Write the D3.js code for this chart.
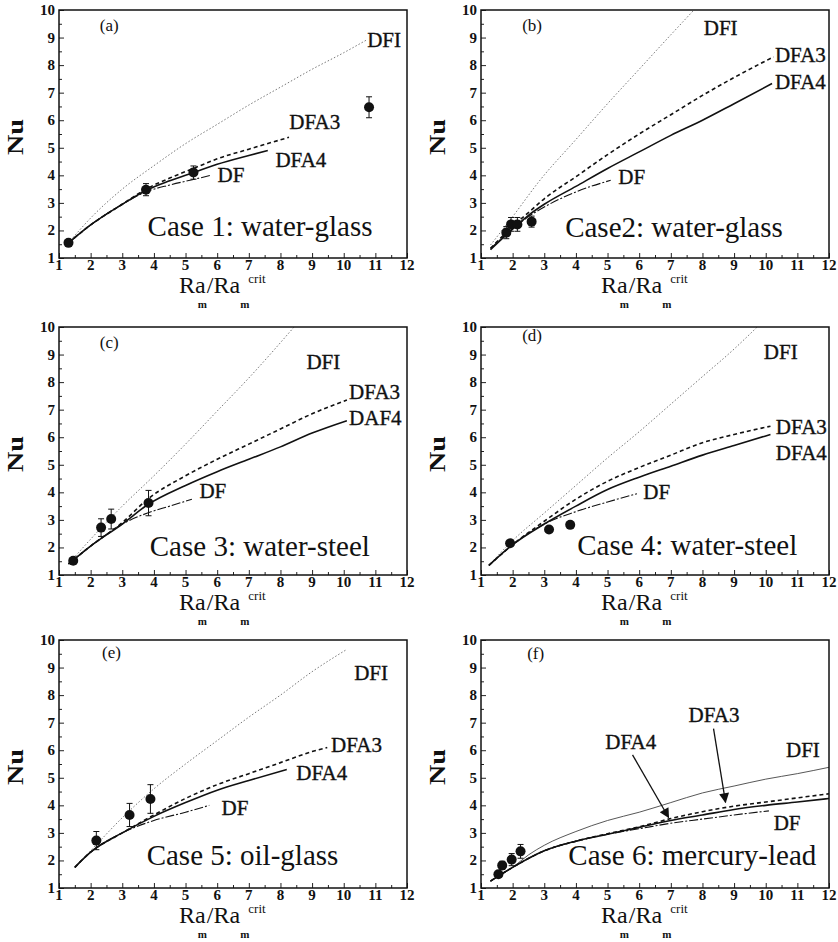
<!DOCTYPE html>
<html>
<head>
<meta charset="utf-8">
<script src="https://cdn.jsdelivr.net/npm/d3@7"></script>
<style>
  body { margin: 0; background: #fff; }
  svg, text { font-family: "Liberation Serif", "Times New Roman", serif; }
  text { fill: #111; }
</style>
</head>
<body>
<svg id="fig" width="838" height="942"></svg>
<script>
const panelTags = ["(a)", "(b)", "(c)", "(d)", "(e)", "(f)"]
const caseNames = ["Case 1: water-glass", "Case2: water-glass", "Case 3: water-steel",
                   "Case 4: water-steel", "Case 5: oil-glass", "Case 6: mercury-lead"]
const xTicks = d3.range(1, 13)
const yTicks = d3.range(1, 11)

// measured Nu: [Ra_m/Ra_m^crit, Nu, error]
const measured = [
  [[1.3, 1.55, 0], [3.75, 3.48, 0.22], [5.25, 4.1, 0.24], [10.8, 6.47, 0.38]],
  [[1.8, 1.92, 0.22], [1.95, 2.22, 0.25], [2.15, 2.22, 0.25], [2.6, 2.32, 0.2]],
  [[1.45, 1.52, 0.1], [2.33, 2.72, 0.32], [2.65, 3.03, 0.36], [3.83, 3.61, 0.46]],
  [[1.92, 2.15, 0], [3.15, 2.65, 0], [3.82, 2.82, 0]],
  [[2.18, 2.72, 0.33], [3.23, 3.65, 0.42], [3.89, 4.23, 0.52]],
  [[1.55, 1.5, 0.1], [1.67, 1.82, 0.15], [1.97, 2.03, 0.22], [2.25, 2.33, 0.25]]
]

// model curves, one list per panel
const DFI = [
  [[1.3, 1.55], [2, 2.45], [3, 3.5], [4, 4.35], [5, 5.15], [6, 5.85], [7, 6.55], [8, 7.2], [9, 7.85], [10, 8.45], [10.75, 8.93]],
  [[1.3, 1.47], [2, 2.5], [2.87, 3.83], [4, 5.3], [5, 6.6], [6, 7.85], [7, 9.1], [7.73, 10]],
  [[1.3, 1.4], [2, 2.3], [3, 3.5], [4, 4.6], [5, 5.75], [6, 6.95], [7, 8.15], [8.43, 10]],
  [[1.25, 1.35], [2, 2.25], [3, 3.25], [4, 4.25], [5, 5.25], [6, 6.2], [7, 7.2], [8, 8.2], [9, 9.2], [9.73, 10]],
  [[1.5, 1.75], [2, 2.35], [3, 3.55], [4, 4.6], [5, 5.5], [6, 6.35], [7, 7.2], [8, 8.0], [9, 8.85], [10.1, 9.66]],
  [[1.3, 1.25], [2, 1.75], [2.5, 2.2], [3, 2.55], [4, 3.05], [5, 3.45], [6, 3.75], [7, 4.1], [8, 4.45], [9, 4.7], [10, 4.95], [11, 5.15], [12, 5.38]]
]
const DFA3 = [
  [[1.3, 1.55], [2, 2.2], [3, 2.95], [3.75, 3.5], [4.5, 3.9], [5.25, 4.25], [6, 4.6], [7, 4.95], [8.27, 5.38]],
  [[1.3, 1.35], [2, 2.15], [2.5, 2.65], [3, 3.15], [4, 3.95], [5, 4.75], [6, 5.5], [7, 6.2], [8, 6.9], [9, 7.55], [10.25, 8.3]],
  [[1.3, 1.4], [2, 2.05], [3, 2.9], [3.8, 3.75], [5, 4.6], [6, 5.2], [7, 5.75], [8, 6.3], [9, 6.85], [10.1, 7.35]],
  [[1.25, 1.35], [2, 2.1], [3, 2.95], [4, 3.75], [5, 4.4], [6, 4.9], [7, 5.35], [8, 5.8], [9, 6.1], [10.15, 6.4]],
  [[1.5, 1.75], [2, 2.3], [3, 3.0], [4, 3.65], [5, 4.25], [6, 4.75], [7, 5.15], [8, 5.55], [9, 5.95], [9.48, 6.1]],
  [[1.3, 1.25], [2, 1.75], [3, 2.35], [4, 2.7], [5, 2.97], [6, 3.22], [7, 3.52], [8, 3.77], [9, 3.97], [10, 4.12], [11, 4.27], [12, 4.42]]
]
const DFA4 = [
  [[1.3, 1.55], [2, 2.2], [3, 2.95], [3.75, 3.45], [4.5, 3.8], [5.25, 4.1], [6, 4.4], [7, 4.72], [7.6, 4.9]],
  [[1.3, 1.3], [2, 2.05], [2.5, 2.55], [3, 2.95], [4, 3.6], [5, 4.25], [6, 4.85], [7, 5.45], [8, 6.0], [9, 6.6], [10.2, 7.33]],
  [[1.3, 1.4], [2, 2.05], [3, 2.85], [3.8, 3.55], [5, 4.25], [6, 4.75], [7, 5.2], [8, 5.65], [9, 6.15], [10.1, 6.6]],
  [[1.25, 1.35], [2, 2.1], [3, 2.85], [4, 3.5], [5, 4.1], [6, 4.55], [7, 4.95], [8, 5.35], [9, 5.7], [10.15, 6.1]],
  [[1.5, 1.75], [2, 2.3], [3, 3.0], [4, 3.6], [5, 4.1], [6, 4.55], [7, 4.9], [8.2, 5.3]],
  [[1.3, 1.25], [2, 1.75], [3, 2.35], [4, 2.7], [5, 2.95], [6, 3.2], [7, 3.45], [8, 3.65], [9, 3.85], [10, 4.0], [11, 4.12], [12, 4.25]]
]
const DF = [
  [[1.3, 1.55], [2, 2.2], [3, 2.95], [3.75, 3.4], [4.5, 3.65], [5.25, 3.85], [5.8, 4.0]],
  [[1.3, 1.35], [2, 2.05], [2.5, 2.5], [3, 2.85], [4, 3.4], [5.1, 3.82]],
  [[1.3, 1.4], [2, 2.05], [3, 2.85], [3.8, 3.25], [4.5, 3.5], [5.2, 3.75]],
  [[1.25, 1.35], [2, 2.1], [3, 2.85], [4, 3.3], [5, 3.65], [5.93, 3.95]],
  [[1.5, 1.75], [2, 2.3], [3, 3.0], [4, 3.45], [5, 3.75], [5.75, 4.0]],
  [[1.3, 1.25], [2, 1.75], [3, 2.35], [4, 2.7], [5, 2.95], [6, 3.15], [7, 3.35], [8, 3.5], [9, 3.65], [10.1, 3.8]]
]

// curve labels per panel: [text, x, y] in data units (left edge, middle)
const curveLabels = [
  [["DFI", 10.74, 8.92], ["DFA3", 8.28, 5.95], ["DFA4", 7.84, 4.58], ["DF", 6.01, 4.04]],
  [["DFI", 8.04, 9.35], ["DFA3", 10.29, 8.37], ["DFA4", 10.29, 7.39], ["DF", 5.34, 3.94]],
  [["DFI", 8.82, 8.76], ["DFA3", 10.17, 7.66], ["DAF4", 10.17, 6.71], ["DF", 5.44, 4.07]],
  [["DFI", 9.94, 9.09], ["DFA3", 10.32, 6.4], ["DFA4", 10.32, 5.45], ["DF", 6.13, 4.04]],
  [["DFI", 10.33, 8.83], ["DFA3", 9.6, 6.21], ["DFA4", 8.5, 5.19], ["DF", 6.14, 3.91]],
  [["DFA3", 7.56, 7.29], ["DFA4", 4.93, 6.3], ["DFI", 10.64, 6.01], ["DF", 10.25, 3.38]]
]
const tagAt = [[2.29, 9.46], [2.3, 9.46], [2.29, 9.45], [2.3, 9.7], [2.36, 9.56], [2.46, 9.52]]
const caseAt = [[3.8, 2.16], [3.66, 2.12], [3.87, 2.06], [4.04, 2.1], [3.77, 2.2], [3.76, 2.21]]
// arrows in panel (f): [x1, y1, x2, y2]
const arrowsF = [[5.79, 5.83, 6.93, 3.56], [8.35, 6.78, 8.73, 4.11]]

const svg = d3.select("#fig")
svg.append("rect").attr("width", 838).attr("height", 942).attr("fill", "#fff")

svg.append("defs").append("marker")
  .attr("id", "head")
  .attr("viewBox", "0 0 10 10")
  .attr("refX", 9).attr("refY", 5)
  .attr("markerWidth", 14).attr("markerHeight", 10)
  .attr("markerUnits", "userSpaceOnUse")
  .attr("orient", "auto")
  .append("path").attr("d", "M0,0 L10,5 L0,10 Z").attr("fill", "#111")

const lefts = [59, 481], tops = [10, 327, 640]
const pw = 348, ph = 248
const serif = "Liberation Serif, Times New Roman, serif"

const curveStyles = {
  DFI: { stroke: "#777", width: 1, dash: "1.5,2" },
  DFA3: { stroke: "#111", width: 1.6, dash: "4,3" },
  DFA4: { stroke: "#111", width: 1.6, dash: null },
  DF: { stroke: "#111", width: 1.1, dash: "9,2,2,2" }
}

panelTags.forEach((tag, i) => {
  let g = svg.append("g")
    .attr("font-family", serif)
    .attr("transform", `translate(${lefts[i % 2]},${tops[Math.floor(i / 2)]})`)

  let x = d3.scaleLinear().domain([1, 12]).range([0, pw])
  let y = d3.scaleLinear().domain([1, 10]).range([ph, 0])

  let clipId = "clip" + i
  g.append("clipPath").attr("id", clipId)
    .append("rect").attr("width", pw).attr("height", ph)

  // inward ticks, major on integers, minor on halves
  let xAxis = d3.axisTop(x).tickValues(d3.range(1, 12.01, 0.5)).tickSize(0).tickFormat("")
  let yAxis = d3.axisRight(y).tickValues(d3.range(1, 10.01, 0.5)).tickSize(0).tickFormat("")
  g.append("g").attr("transform", `translate(0,${ph})`).call(xAxis)
    .call(s => s.select(".domain").remove())
    .selectAll(".tick line").attr("y2", d => Number.isInteger(d) ? -5 : -3).attr("stroke", "#222")
  g.append("g").call(yAxis)
    .call(s => s.select(".domain").remove())
    .selectAll(".tick line").attr("x2", d => Number.isInteger(d) ? 5 : 3).attr("stroke", "#222")

  // tick labels
  g.append("g").selectAll("text").data(xTicks).join("text")
    .attr("x", d => x(d)).attr("y", ph + 12)
    .attr("text-anchor", "middle")
    .attr("font-family", serif)
    .attr("font-size", 15).attr("font-weight", "bold")
    .text(d => d)
  g.append("g").selectAll("text").data(yTicks).join("text")
    .attr("x", -4).attr("y", d => y(d) + 5)
    .attr("text-anchor", "end")
    .attr("font-family", serif)
    .attr("font-size", 15).attr("font-weight", "bold")
    .text(d => d)

  // curves
  let line = d3.line().x(d => x(d[0])).y(d => y(d[1])).curve(d3.curveMonotoneX)
  let curves = [["DFI", DFI[i]], ["DFA3", DFA3[i]], ["DFA4", DFA4[i]], ["DF", DF[i]]]
  let cg = g.append("g").attr("clip-path", `url(#${clipId})`)
  curves.forEach(([name, pts]) => {
    let st = curveStyles[name]
    let stroke = st.stroke, dash = st.dash, wd = st.width
    if (name === "DFI" && i === 5) { stroke = "#444"; dash = null; wd = 0.9 }
    cg.append("path")
      .attr("d", line(pts))
      .attr("fill", "none")
      .attr("stroke", stroke)
      .attr("stroke-width", wd)
      .attr("stroke-dasharray", dash)
  })

  // measurements with error bars
  let pg = g.append("g")
  let pts = measured[i]
  pg.selectAll(".err").data(pts.filter(d => d[2] > 0)).join("path")
    .attr("class", "err")
    .attr("d", d => `M${x(d[0])},${y(d[1] - d[2])}V${y(d[1] + d[2])}` +
      `M${x(d[0]) - 3},${y(d[1] + d[2])}h6M${x(d[0]) - 3},${y(d[1] - d[2])}h6`)
    .attr("stroke", "#111").attr("stroke-width", 1).attr("fill", "none")
  pg.selectAll("circle").data(pts).join("circle")
    .attr("cx", d => x(d[0])).attr("cy", d => y(d[1]))
    .attr("r", 5).attr("fill", "#111")

  // frame
  g.append("rect").attr("width", pw).attr("height", ph)
    .attr("fill", "none").attr("stroke", "#111").attr("stroke-width", 1.5)

  // labels
  g.append("text").attr("x", x(tagAt[i][0])).attr("y", y(tagAt[i][1]))
    .attr("dy", "0.35em").attr("font-size", 17).text(tag)
  g.selectAll(".clab").data(curveLabels[i]).join("text")
    .attr("class", "clab")
    .attr("x", d => x(d[1])).attr("y", d => y(d[2]))
    .attr("dy", "0.35em").attr("font-size", 21)
    .attr("stroke", "#111").attr("stroke-width", 0.35)
    .text(d => d[0])
  g.append("text").attr("x", x(caseAt[i][0])).attr("y", y(caseAt[i][1]))
    .attr("dy", "0.35em").attr("font-size", 29).text(caseNames[i])

  if (i === 5) {
    g.selectAll(".arrow").data(arrowsF).join("line")
      .attr("class", "arrow")
      .attr("x1", d => x(d[0])).attr("y1", d => y(d[1]))
      .attr("x2", d => x(d[2])).attr("y2", d => y(d[3]))
      .attr("stroke", "#111").attr("stroke-width", 1.3)
      .attr("marker-end", "url(#head)")
  }

  // axis titles
  let cx = pw / 2
  let t = g.append("text").attr("x", cx - 54).attr("y", ph + 35).attr("font-size", 24)
  t.append("tspan").text("Ra")
  t.append("tspan").attr("dx", -8).attr("dy", 15).attr("font-size", 11).attr("font-weight", "bold").text("m")
  t.append("tspan").attr("dy", -15).text("/Ra")
  t.append("tspan").attr("dy", 15).attr("font-size", 11).attr("font-weight", "bold").text("m")
  t.append("tspan").attr("dx", -1).attr("dy", -25).attr("font-size", 13).text("crit")

  g.append("text")
    .attr("transform", `translate(-36,${ph / 2 + 3}) rotate(-90)`)
    .attr("text-anchor", "middle")
    .attr("font-size", 24).attr("font-weight", "bold")
    .attr("textLength", 36).attr("lengthAdjust", "spacingAndGlyphs")
    .text("Nu")
})
</script>
</body>
</html>
